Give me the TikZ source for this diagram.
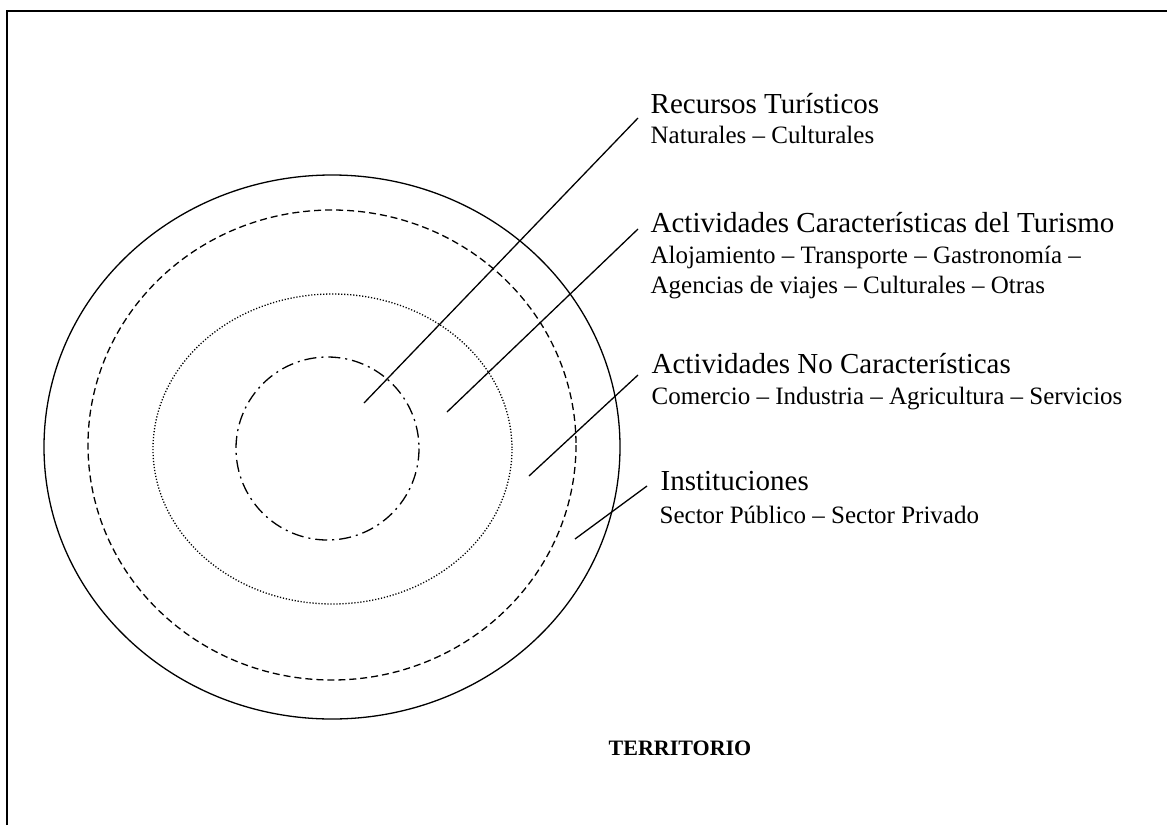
\documentclass[tikz,border=0pt]{standalone}
\usepackage{fontspec}
\setmainfont{Liberation Serif}
\usepackage{tikz}
\usetikzlibrary{positioning}

\begin{document}
\begin{tikzpicture}[
  x=1pt, y=-1pt, line width=1.3pt,
  head/.style={anchor=base west, inner sep=0pt, font=\fontsize{29}{33}\selectfont},
  sub/.style={anchor=base west, inner sep=0pt, font=\fontsize{25}{30}\selectfont}
]
\useasboundingbox (0,0) rectangle (1167,825);
% frame (only top and left edges visible)
\draw[line width=2pt] (7,825) -- (7,11) -- (1167,11);

% rings
\draw (332,447) ellipse [x radius=288, y radius=272];
\draw[dash pattern=on 7pt off 4pt] (332,445) ellipse [x radius=244, y radius=235];
\draw[line width=1.3pt, dash pattern=on 1.2pt off 1.8pt] (332.5,449) ellipse [x radius=179.5, y radius=155];
\draw[dash pattern=on 12pt off 5pt on 2pt off 5pt] (327.5,448.5) circle [radius=91.5];

% labels
\node[head] (recursos) at (650,113) {Recursos Turísticos};
\node[sub] (recursosSub) at (650,143) {Naturales -- Culturales};

\node[head] (actCar) at (650,232) {Actividades Características del Turismo};
\node[sub] (actCarSubA) at (650,263) {Alojamiento -- Transporte -- Gastronomía --};
\node[sub] (actCarSubB) at (650,293) {Agencias de viajes -- Culturales -- Otras};

\node[head] (actNo) at (651,373) {Actividades No Características};
\node[sub] (actNoSub) at (651,404) {Comercio -- Industria -- Agricultura -- Servicios};

\node[head] (inst) at (660,490) {Instituciones};
\node[sub] (instSub) at (659,523) {Sector Público -- Sector Privado};

\node[anchor=base, inner sep=0pt, font=\fontsize{22}{26}\selectfont\bfseries] (territorio) at (680,755) {TERRITORIO};

% leader lines
\coordinate (ringA) at (364,403);
\coordinate (tipA) at (638,118);
\coordinate (ringB) at (447,412);
\coordinate (tipB) at (638,229);
\coordinate (ringC) at (529,476);
\coordinate (tipC) at (638,375);
\coordinate (ringD) at (575,539);
\coordinate (tipD) at (647,486);
\draw (ringA) -- (tipA);
\draw (ringB) -- (tipB);
\draw (ringC) -- (tipC);
\draw (ringD) -- (tipD);
\end{tikzpicture}
\end{document}
